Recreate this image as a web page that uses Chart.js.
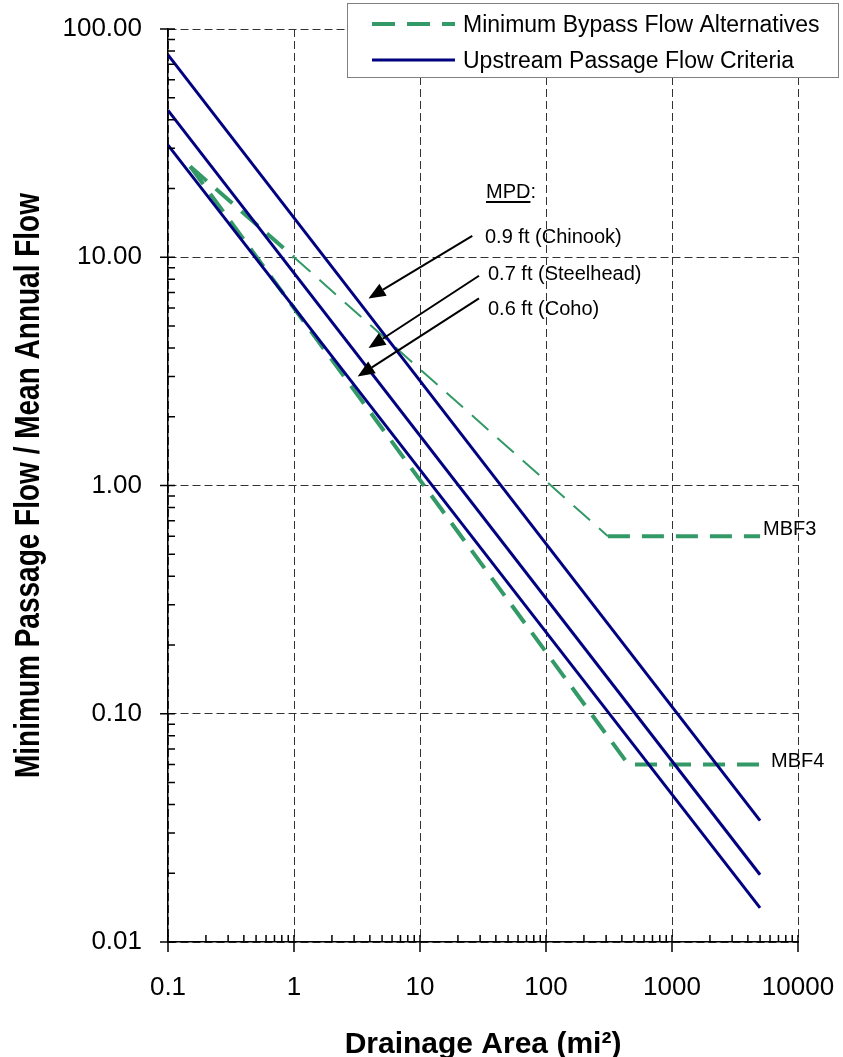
<!DOCTYPE html>
<html>
<head>
<meta charset="utf-8">
<script src="https://cdn.jsdelivr.net/npm/chart.js@4.4.1/dist/chart.umd.min.js"></script>
<style>
  html, body { margin: 0; padding: 0; background: #fff; }
</style>
</head>
<body>
<canvas id="myChart" width="843" height="1057"></canvas>
<script>
// upstream passage flow criteria (ends of each line)
const criteriaArea = [0.1, 5000];
const chinook = [77, 0.034];
const steelhead = [44, 0.0197];
const coho = [31, 0.0141];

// minimum bypass flow alternatives
const mbf3Area = [0.15, 1, 310, 5000];
const mbf3 = [25, 10, 0.6, 0.6];
const mbf4Area = [0.15, 450, 5000];
const mbf4 = [25, 0.06, 0.06];

// axes
const xTicks = [0.1, 1, 10, 100, 1000, 10000];
const xTickLabels = ['0.1', '1', '10', '100', '1000', '10000'];
const yTicks = [0.01, 0.1, 1, 10, 100];
const yTickLabels = ['0.01', '0.10', '1.00', '10.00', '100.00'];

const mpdLabels = ['0.9 ft (Chinook)', '0.7 ft (Steelhead)', '0.6 ft (Coho)'];
// arrows: tail and tip in data units (area, flow ratio)
const mpdArrows = [
  { from: [26, 12.4], to: [3.9, 6.6] },
  { from: [29.4, 8.3], to: [3.9, 4.0] },
  { from: [29.4, 6.6], to: [3.2, 3.0] }
];

const navy = '#000080';
const green = '#339966';
const FONT = '"Liberation Sans", Arial, sans-serif';

Chart.defaults.font.family = FONT;
Chart.defaults.color = '#000';

const pts = (xs, ys) => xs.map((x, i) => ({ x: x, y: ys[i] }));

function minorValues(lo, hi) {
  const out = [];
  for (let d = lo; d < hi * 0.999; d *= 10) {
    for (let k = 2; k <= 9; k++) out.push(d * k);
  }
  return out;
}

function arrow(ctx, x1, y1, x2, y2) {
  const ang = Math.atan2(y2 - y1, x2 - x1);
  const head = 17, half = 7;
  const bx = x2 - head * Math.cos(ang), by = y2 - head * Math.sin(ang);
  ctx.beginPath();
  ctx.moveTo(x1, y1);
  ctx.lineTo(bx, by);
  ctx.stroke();
  ctx.beginPath();
  ctx.moveTo(x2, y2);
  ctx.lineTo(bx + half * Math.sin(ang), by - half * Math.cos(ang));
  ctx.lineTo(bx - half * Math.sin(ang), by + half * Math.cos(ang));
  ctx.closePath();
  ctx.fill();
}

// tick marks, labels, arrows and the boxed legend
const decor = {
  id: 'decor',
  afterDraw(chart) {
    const { ctx, chartArea: a, scales: { x, y } } = chart;
    ctx.save();

    // tick marks
    ctx.strokeStyle = '#000';
    ctx.lineWidth = 1.5;
    ctx.beginPath();
    xTicks.forEach(v => {
      const px = x.getPixelForValue(v);
      ctx.moveTo(px, a.bottom - 7); ctx.lineTo(px, a.bottom + 10);
    });
    minorValues(0.1, 10000).forEach(v => {
      const px = x.getPixelForValue(v);
      ctx.moveTo(px, a.bottom - 7); ctx.lineTo(px, a.bottom);
    });
    yTicks.forEach(v => {
      const py = y.getPixelForValue(v);
      ctx.moveTo(a.left - 8, py); ctx.lineTo(a.left + 7, py);
    });
    minorValues(0.01, 100).forEach(v => {
      const py = y.getPixelForValue(v);
      ctx.moveTo(a.left, py); ctx.lineTo(a.left + 7, py);
    });
    ctx.stroke();

    // y axis title
    ctx.save();
    ctx.translate(39, (a.top + a.bottom) / 2);
    ctx.rotate(-Math.PI / 2);
    ctx.scale(0.8, 1);
    ctx.font = 'bold 35px ' + FONT;
    ctx.fillStyle = '#000';
    ctx.textAlign = 'center';
    ctx.textBaseline = 'alphabetic';
    ctx.fillText('Minimum Passage Flow / Mean Annual Flow', 0, 0);
    ctx.restore();

    // MPD notes
    ctx.fillStyle = '#000';
    ctx.font = '20px ' + FONT;
    ctx.textAlign = 'left';
    ctx.textBaseline = 'alphabetic';
    ctx.fillText('MPD:', 486, 198);
    const uw = ctx.measureText('MPD').width;
    ctx.fillRect(486, 201, uw, 2);
    ctx.fillText(mpdLabels[0], 485, 243);
    ctx.fillText(mpdLabels[1], 488, 280);
    ctx.fillText(mpdLabels[2], 488, 315);

    ctx.lineWidth = 2;
    ctx.strokeStyle = '#000';
    mpdArrows.forEach(r => {
      arrow(ctx,
        x.getPixelForValue(r.from[0]), y.getPixelForValue(r.from[1]),
        x.getPixelForValue(r.to[0]), y.getPixelForValue(r.to[1]));
    });

    // end labels of the bypass alternatives
    ctx.textBaseline = 'middle';
    ctx.fillText('MBF3', x.getPixelForValue(mbf3Area[mbf3Area.length - 1]) + 3,
      y.getPixelForValue(mbf3[mbf3.length - 1]) - 7);
    ctx.fillText('MBF4', x.getPixelForValue(mbf4Area[mbf4Area.length - 1]) + 11,
      y.getPixelForValue(mbf4[mbf4.length - 1]) - 3);

    // legend box
    ctx.fillStyle = '#fff';
    ctx.fillRect(347, 3, 491, 74);
    ctx.strokeStyle = '#808080';
    ctx.lineWidth = 1;
    ctx.strokeRect(347.5, 3.5, 491, 74);

    ctx.strokeStyle = green;
    ctx.lineWidth = 4;
    ctx.setLineDash([23, 12]);
    ctx.beginPath();
    ctx.moveTo(372, 24); ctx.lineTo(455, 24);
    ctx.stroke();
    ctx.setLineDash([]);
    ctx.strokeStyle = navy;
    ctx.lineWidth = 3;
    ctx.beginPath();
    ctx.moveTo(372, 60); ctx.lineTo(455, 60);
    ctx.stroke();

    ctx.fillStyle = '#000';
    ctx.font = '23px ' + FONT;
    ctx.textBaseline = 'alphabetic';
    ctx.fillText(chart.data.datasets[3].label, 463, 32);
    ctx.fillText('Upstream Passage Flow Criteria', 463, 68);

    ctx.restore();
  }
};

const blueLine = (label, ys) => ({
  label: label,
  data: pts(criteriaArea, ys),
  borderColor: navy,
  borderWidth: 3,
  pointRadius: 0,
  tension: 0,
  fill: false
});

const ctx = document.getElementById('myChart').getContext('2d');

new Chart(ctx, {
  type: 'line',
  data: {
    datasets: [
      blueLine('0.9 ft (Chinook)', chinook),
      blueLine('0.7 ft (Steelhead)', steelhead),
      blueLine('0.6 ft (Coho)', coho),
      {
        label: 'Minimum Bypass Flow Alternatives',
        data: pts(mbf3Area, mbf3),
        borderColor: green,
        borderWidth: 4,
        borderDash: [22, 12],
        segment: {
          borderWidth: c => (c.p0DataIndex === 1 ? 2 : 4)
        },
        pointRadius: 0,
        tension: 0,
        fill: false
      },
      {
        label: 'MBF4',
        data: pts(mbf4Area, mbf4),
        borderColor: green,
        borderWidth: 4,
        borderDash: [22, 12],
        pointRadius: 0,
        tension: 0,
        fill: false
      }
    ]
  },
  options: {
    responsive: false,
    animation: false,
    layout: {
      padding: { top: 29, right: 45, left: 0, bottom: 0 }
    },
    plugins: {
      legend: { display: false },
      tooltip: { enabled: false }
    },
    scales: {
      x: {
        type: 'logarithmic',
        min: 0.1,
        max: 10000,
        afterFit: s => {
          s.height = 115;
          s.paddingLeft = 0;
          s.paddingRight = 0;
        },
        afterBuildTicks: s => { s.ticks = xTicks.map(v => ({ value: v })); },
        ticks: {
          autoSkip: false,
          maxRotation: 0,
          padding: 30,
          color: '#000',
          font: { size: 26 },
          callback: v => xTickLabels[xTicks.indexOf(v)]
        },
        grid: {
          color: '#333',
          lineWidth: 1,
          drawTicks: false
        },
        border: { display: true, color: '#000', width: 1.5, dash: [8, 4] },
        title: {
          display: true,
          text: 'Drainage Area (mi²)',
          color: '#000',
          font: { size: 30, weight: 'bold', lineHeight: 0.8 },
          padding: 0
        }
      },
      y: {
        type: 'logarithmic',
        min: 0.01,
        max: 100,
        afterFit: s => {
          s.width = 168;
          s.paddingTop = 0;
          s.paddingBottom = 0;
        },
        afterBuildTicks: s => { s.ticks = yTicks.map(v => ({ value: v })); },
        ticks: {
          autoSkip: false,
          padding: 26,
          color: '#000',
          font: { size: 26 },
          callback: v => yTickLabels[yTicks.indexOf(v)]
        },
        grid: {
          color: '#333',
          lineWidth: 1,
          drawTicks: false
        },
        border: { display: true, color: '#000', width: 1.5, dash: [8, 4] }
      }
    }
  },
  plugins: [decor]
});
</script>
</body>
</html>
